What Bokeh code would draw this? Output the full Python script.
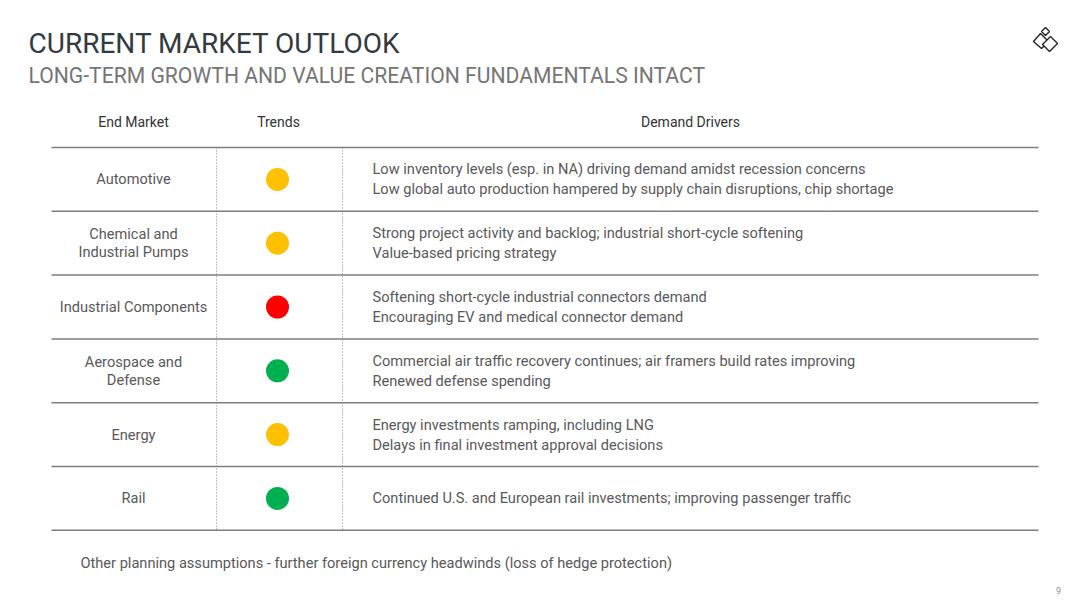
from bokeh.plotting import figure
from bokeh.models import Range1d
from bokeh.core.properties import value
from bokeh.embed import file_html
from bokeh.resources import INLINE

# ---- data ----
title = "CURRENT MARKET OUTLOOK"
subtitle = "LONG-TERM GROWTH AND VALUE CREATION FUNDAMENTALS INTACT"
headers = ["End Market", "Trends", "Demand Drivers"]
markets = [
    ["Automotive"],
    ["Chemical and", "Industrial Pumps"],
    ["Industrial Components"],
    ["Aerospace and", "Defense"],
    ["Energy"],
    ["Rail"],
]
trends = ["yellow", "yellow", "red", "green", "yellow", "green"]
drivers = [
    ["Low inventory levels (esp. in NA) driving demand amidst recession concerns",
     "Low global auto production hampered by supply chain disruptions, chip shortage"],
    ["Strong project activity and backlog; industrial short-cycle softening",
     "Value-based pricing strategy"],
    ["Softening short-cycle industrial connectors demand",
     "Encouraging EV and medical connector demand"],
    ["Commercial air traffic recovery continues; air framers build rates improving",
     "Renewed defense spending"],
    ["Energy investments ramping, including LNG",
     "Delays in final investment approval decisions"],
    ["Continued U.S. and European rail investments; improving passenger traffic"],
]
footer = "Other planning assumptions - further foreign currency headwinds (loss of hedge protection)"
page_no = "9"

trend_colors = {"yellow": "#FFC000", "red": "#FF0000", "green": "#00B050"}

# ---- layout ----
FONT = value("Roboto")
W, H = 1072, 596
p = figure(width=W, height=H, x_range=Range1d(0, W), y_range=Range1d(H, 0),
           output_backend="svg", toolbar_location=None, min_border=0)
p.axis.visible = False
p.grid.visible = False
p.outline_line_color = None
p.background_fill_color = "white"

top, row_h = 147, 63.8
x_left, x_right = 51, 1038
col1, col2 = 216, 342
n = len(markets)

# title
p.text(x=[28], y=[43], text=[title], text_font=FONT, text_font_size="28px",
       text_color="#333a40", text_baseline="middle", text_align="left")
p.text(x=[28], y=[75], text=[subtitle], text_font=FONT, text_font_size="21.15px",
       text_color="#757575", text_baseline="middle", text_align="left")

# headers
p.text(x=[133, 278, 690], y=[121] * 3, text=headers, text_font=FONT,
       text_font_size="14px", text_color="#333333", text_baseline="middle",
       text_align="center")

# horizontal rules
ys = [top + i * row_h for i in range(n + 1)]
p.multi_line(xs=[[x_left, x_right]] * len(ys), ys=[[y, y] for y in ys],
             line_color="#7f7f7f", line_width=1.5)
# dotted verticals
p.multi_line(xs=[[col1, col1], [col2, col2]], ys=[[top, ys[-1]]] * 2,
             line_color="#808080", line_width=1, line_dash="1 2")

# rows
mx, my, mt = [], [], []
dx, dy, dt = [], [], []
cx, cy, cc = [], [], []
for i in range(n):
    yc = top + (i + 0.5) * row_h
    for j, s in enumerate(markets[i]):
        mx.append(133)
        my.append(yc + (j - (len(markets[i]) - 1) / 2) * 18)
        mt.append(s)
    for j, s in enumerate(drivers[i]):
        dx.append(372)
        dy.append(yc + (j - (len(drivers[i]) - 1) / 2) * 20)
        dt.append(s)
    cx.append(277)
    cy.append(yc)
    cc.append(trend_colors[trends[i]])

p.text(x=mx, y=my, text=mt, text_font=FONT, text_font_size="14.6px",
       text_color="#595959", text_baseline="middle", text_align="center")
p.text(x=dx, y=dy, text=dt, text_font=FONT, text_font_size="14.6px",
       text_color="#595959", text_baseline="middle", text_align="left")
p.scatter(x=cx, y=cy, size=23, fill_color=cc, line_color=None)

# footer & page number
p.text(x=[80], y=[562], text=[footer], text_font=FONT, text_font_size="14.6px",
       text_color="#595959", text_baseline="middle", text_align="left")
p.text(x=[1058], y=[590], text=[page_no], text_font=FONT, text_font_size="9px",
       text_color="#8c8c8c", text_baseline="middle", text_align="center")

# logo (outlined diamonds)
lx = [[1045, 1049, 1045, 1041],
      [1040, 1048, 1041, 1033],
      [1050, 1057, 1049, 1042]]
ly = [[27, 31, 35, 31],
      [33, 41, 48, 41],
      [36, 43, 51, 44]]
p.patches(xs=lx, ys=ly, fill_color="white", line_color="#222222", line_width=1.4)

open("out.html", "w").write(file_html(p, INLINE))
